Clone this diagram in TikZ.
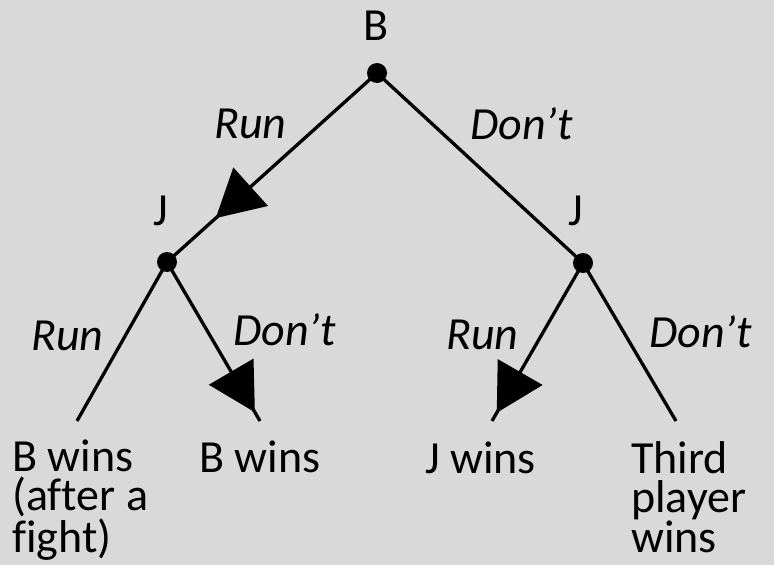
\documentclass[tikz,border=0pt]{standalone}
\usepackage{fontspec}
\setmainfont{Carlito}[Ligatures=NoCommon]
\usetikzlibrary{arrows.meta,decorations.markings}
\definecolor{bg}{HTML}{D9D9D9}
\begin{document}
\begin{tikzpicture}[x=1pt,y=-1pt,
  dot/.style={circle,fill=black,inner sep=0pt,minimum size=20pt},
  edge/.style={line width=3.3pt,draw=black},
  head/.style={postaction={decorate,decoration={markings,
      mark=at position #1 with {\arrow{Triangle[length=47pt,width=51pt]}}}}},
  lbl/.style={font=\fontsize{46}{39.5}\selectfont,inner sep=0pt,anchor=base west,align=left},
  act/.style={font=\fontsize{46}{39.5}\selectfont\itshape,inner sep=0pt,anchor=base west}]
\fill[bg] (0,0) rectangle (774,565);
\useasboundingbox (0,0) rectangle (774,565);
% decision nodes
\node[dot] (B) at (377,73) {};
\node[dot] (J1) at (167,262) {};
\node[dot] (J2) at (583,263) {};
\coordinate (L1) at (77,421);
\coordinate (L2) at (260,421);
\coordinate (L3) at (492,421);
\coordinate (L4) at (676,421);
% edges
\draw[edge,head=0.768] (B.center) -- (J1.center);
\draw[edge] (B.center) -- (J2.center);
\draw[edge] (J1.center) -- (L1);
\draw[edge,head=0.945] (J1.center) -- (L2);
\draw[edge,head=0.948] (J2.center) -- (L3);
\draw[edge] (J2.center) -- (L4);
% player labels
\node[lbl,anchor=base] (tB) at (376,40) {B};
\node[lbl] (tJ1) at (153,225) {J};
\node[lbl] (tJ2) at (568,225) {J};
% action labels
\node[act] (a1) at (214,138) {Run};
\node[act] (a2) at (470,139) {Don’t};
\node[act] (a3) at (31,350) {Run};
\node[act] (a4) at (233,345) {Don’t};
\node[act] (a5) at (446,349) {Run};
\node[act] (a6) at (649,347) {Don’t};
% outcomes (base anchor = last line)
\node[lbl] (o1) at (12,552) {B wins\\(after a\\fight)};
\node[lbl] (o2) at (199,472) {B wins};
\node[lbl] (o3) at (425,473) {J wins};
\node[lbl] (o4) at (631,552) {Third\\player\\wins};
\end{tikzpicture}
\end{document}
